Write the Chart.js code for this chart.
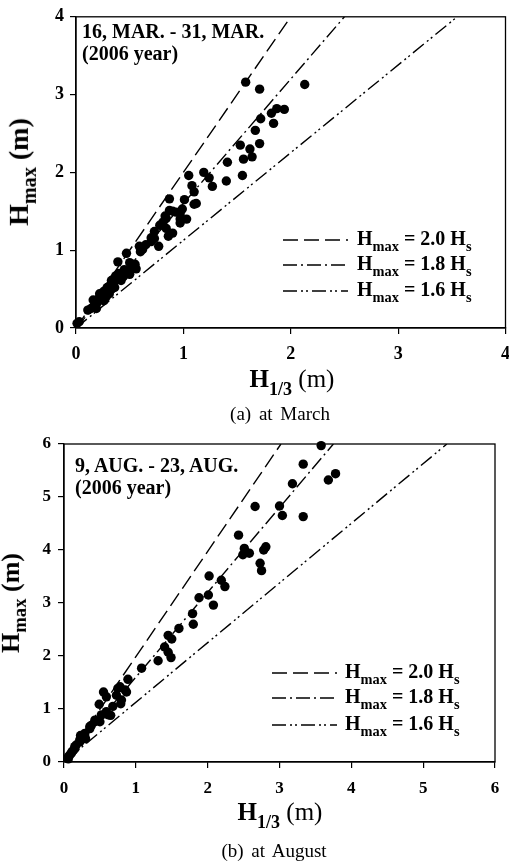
<!DOCTYPE html>
<html><head><meta charset="utf-8">
<script src="https://cdn.jsdelivr.net/npm/chart.js@4.4.0/dist/chart.umd.min.js"></script>
<style>
html,body{margin:0;padding:0;background:#fff;width:509px;height:863px;overflow:hidden;position:relative;}
canvas{position:absolute;left:0;}
.t{position:absolute;font-family:"Liberation Serif","Times New Roman",serif;color:#000;white-space:nowrap;line-height:1;}
.b{font-weight:bold;}
.sub{font-size:0.72em;vertical-align:-0.4em;}
.rot{transform:translate(-50%,-50%) rotate(-90deg);}
.ctr{transform:translate(-50%,-50%);}
svg{position:absolute;overflow:visible;}
</style></head><body>
<canvas id="c1" width="520" height="370" style="top:0px"></canvas>
<canvas id="c2" width="520" height="375" style="top:425px"></canvas>

<div class="t b" style="left:82px;top:20px;font-size:20px;line-height:22px;">16, MAR. - 31, MAR.<br>(2006 year)</div>
<div class="t b" style="left:75px;top:454px;font-size:20px;line-height:22px;">9, AUG. - 23, AUG.<br>(2006 year)</div>

<div class="t b rot" style="left:22px;top:172px;font-size:28px;">H<span class="sub">max</span> (m)</div>
<div class="t ctr" style="left:292px;top:382px;font-size:25px;"><b>H<span class="sub">1/3</span></b> (m)</div>
<div class="t ctr" style="left:280px;top:413px;font-size:19px;word-spacing:3px;">(a) at March</div>

<div class="t b rot" style="left:14px;top:603px;font-size:26px;">H<span class="sub">max</span> (m)</div>
<div class="t ctr" style="left:280px;top:815px;font-size:25px;"><b>H<span class="sub">1/3</span></b> (m)</div>
<div class="t ctr" style="left:274px;top:850px;font-size:19px;word-spacing:3px;">(b) at August</div>

<div id="leg1"></div>
<div id="leg2"></div>

<script>
// ---------- data ----------
const marchTicks = [0, 1, 2, 3, 4];
const augustTicks = [0, 1, 2, 3, 4, 5, 6];

const marchH13 = [0.01,0.03,0.11,0.14,0.16,0.16,0.18,0.19,0.20,0.22,0.22,0.24,0.25,0.25,0.26,0.27,0.28,0.28,0.29,0.30,
  0.31,0.32,0.33,0.33,0.34,0.35,0.35,0.36,0.37,0.38,0.39,0.40,0.41,0.42,0.43,0.44,0.45,0.46,0.47,0.47,
  0.50,0.50,0.52,0.54,0.55,0.56,0.59,0.60,0.62,0.65,0.70,0.70,0.73,0.73,0.77,0.78,0.81,0.83,0.84,0.84,
  0.86,0.87,0.87,0.90,0.90,0.93,0.97,0.97,0.97,0.99,1.01,1.03,1.05,1.08,1.10,1.10,1.12,1.19,1.24,1.27,
  1.40,1.41,1.53,1.55,1.56,1.58,1.62,1.64,1.67,1.71,1.71,1.72,1.82,1.84,1.87,1.94,2.13];
const marchHmax = [0.06,0.08,0.23,0.25,0.27,0.36,0.30,0.25,0.33,0.40,0.44,0.42,0.38,0.46,0.35,0.48,0.40,0.45,0.52,0.50,
  0.44,0.55,0.50,0.61,0.56,0.58,0.63,0.52,0.67,0.62,0.85,0.70,0.65,0.61,0.69,0.66,0.75,0.70,0.73,0.96,
  0.69,0.84,0.80,0.77,0.82,0.76,1.05,0.98,1.01,1.07,1.11,1.16,1.15,1.24,1.05,1.32,1.36,1.44,1.28,1.41,
  1.18,1.51,1.66,1.22,1.50,1.49,1.35,1.40,1.47,1.53,1.65,1.40,1.96,1.83,1.59,1.75,1.60,2.00,1.93,1.82,
  1.89,2.13,2.35,1.96,2.17,3.16,2.30,2.20,2.54,2.37,3.07,2.69,2.76,2.63,2.82,2.81,3.13];

const augustH13 = [0.06,0.06,0.08,0.10,0.11,0.13,0.15,0.15,0.17,0.22,0.22,0.23,0.29,0.30,0.36,0.36,0.38,0.43,0.43,0.50,
  0.49,0.52,0.55,0.59,0.59,0.62,0.65,0.68,0.73,0.75,0.78,0.79,0.80,0.85,0.87,0.89,1.08,1.31,1.40,1.45,
  1.45,1.49,1.50,1.60,1.79,1.80,1.88,2.01,2.02,2.08,2.19,2.24,2.43,2.49,2.51,2.58,2.66,2.73,2.75,2.78,
  2.81,3.00,3.04,3.18,3.33,3.33,3.58,3.68,3.78];
const augustHmax = [0.06,0.10,0.13,0.16,0.19,0.22,0.25,0.29,0.32,0.38,0.42,0.50,0.54,0.44,0.63,0.67,0.69,0.76,0.79,0.76,
  1.09,0.89,1.32,0.95,1.23,0.89,0.88,1.05,1.26,1.39,1.42,1.10,1.17,1.36,1.32,1.56,1.77,1.91,2.17,2.07,
  2.39,1.97,2.32,2.52,2.80,2.60,3.10,3.15,3.51,2.96,3.43,3.31,4.28,3.91,4.03,3.94,4.82,3.75,3.61,4.00,
  4.06,4.83,4.65,5.25,5.62,4.63,5.97,5.32,5.44];

// reference lines as drawn in the figure: [H1/3, Hmax] end points
const marchLine20 = [[0, 0], [2.0, 4.0]];
const marchLine18 = [[0, 0], [2.5, 4.0]];
const marchLine16 = [[0, 0], [3.55, 4.0]];
const augustLine20 = [[0, 0], [3.02, 6.0]];
const augustLine18 = [[0, 0], [3.75, 6.0]];
const augustLine16 = [[0, 0], [5.33, 6.0]];

const legendCoefs = ['2.0', '1.8', '1.6'];

// ---------- styles ----------
const dashes = [[15, 6], [14, 4, 2, 4], [14, 4, 2, 3, 2, 4]];
const FONT = '"Liberation Serif","Times New Roman",serif';

function pairs(xs, ys) { return xs.map((x, i) => ({x: x, y: ys[i]})); }
function seg(p) { return p.map(q => ({x: q[0], y: q[1]})); }

const framePlugin = {
  id: 'frame',
  afterDatasetsDraw(chart) {
    const a = chart.chartArea, ctx = chart.ctx;
    ctx.save();
    ctx.strokeStyle = '#000';
    ctx.lineWidth = 1.3;
    ctx.strokeRect(a.left, a.top, a.right - a.left, a.bottom - a.top);
    ctx.restore();
  }
};

function makeChart(id, xs, ys, lines, ticks, dims) {
  const max = ticks[ticks.length - 1];
  const ds = [{
    data: pairs(xs, ys),
    backgroundColor: '#000',
    borderWidth: 0,
    pointRadius: 4.7,
    clip: false,
    order: 0
  }];
  lines.forEach((l, i) => ds.push({
    data: seg(l),
    showLine: true,
    borderColor: '#000',
    borderWidth: 1.4,
    borderDash: dashes[i],
    pointRadius: 0,
    fill: false,
    order: 1
  }));
  const tickFont = {family: FONT, size: dims.tickSize, weight: 'bold'};
  return new Chart(document.getElementById(id), {
    type: 'scatter',
    data: {datasets: ds},
    options: {
      responsive: false,
      animation: false,
      devicePixelRatio: 1,
      layout: {padding: {left: 0, top: dims.top, right: dims.right, bottom: 0}},
      plugins: {legend: {display: false}, tooltip: {enabled: false}},
      scales: {
        x: {
          type: 'linear', min: 0, max: max,
          afterBuildTicks(s) { s.ticks = ticks.map(v => ({value: v})); },
          ticks: {font: tickFont, color: '#000', padding: dims.xPad, maxRotation: 0},
          grid: {drawOnChartArea: false, drawTicks: true, tickLength: 6, color: '#000', lineWidth: 1.2},
          border: {display: true, color: '#000', width: 1.3},
          afterFit(s) { s.height = dims.xH; }
        },
        y: {
          type: 'linear', min: 0, max: max,
          afterBuildTicks(s) { s.ticks = ticks.map(v => ({value: v})); },
          ticks: {font: tickFont, color: '#000', padding: dims.yPad},
          grid: {drawOnChartArea: false, drawTicks: true, tickLength: 6, color: '#000', lineWidth: 1.2},
          border: {display: true, color: '#000', width: 1.3},
          afterFit(s) { s.width = dims.yW; }
        }
      }
    },
    plugins: [framePlugin]
  });
}

makeChart('c1', marchH13, marchHmax, [marchLine20, marchLine18, marchLine16], marchTicks,
  {top: 11, right: 14, xH: 42, yW: 76, tickSize: 18, xPad: 10, yPad: 6});
makeChart('c2', augustH13, augustHmax, [augustLine20, augustLine18, augustLine16], augustTicks,
  {top: 19, right: 25, xH: 38, yW: 64, tickSize: 17, xPad: 10, yPad: 7});

// ---------- legends (HTML, with subscripts) ----------
function legend(elId, x0, x1, textX, rows, size) {
  const el = document.getElementById(elId);
  let svg = '<svg style="left:0;top:0" width="509" height="863">';
  rows.forEach((y, i) => {
    svg += '<line x1="' + x0 + '" y1="' + y + '" x2="' + x1 + '" y2="' + y +
      '" stroke="#000" stroke-width="1.4" stroke-dasharray="' + dashes[i].join(' ') + '"/>';
  });
  svg += '</svg>';
  let html = svg;
  rows.forEach((y, i) => {
    html += '<div class="t b" style="left:' + textX + 'px;top:' + (y - 12) + 'px;font-size:' + size + 'px;">H<span class="sub">max</span> = ' +
      legendCoefs[i] + ' H<span class="sub">s</span></div>';
  });
  el.innerHTML = html;
}
legend('leg1', 283, 348, 357, [240, 265, 291], 20);
legend('leg2', 272, 337, 345, [673, 698, 725], 20);
</script>
</body></html>
